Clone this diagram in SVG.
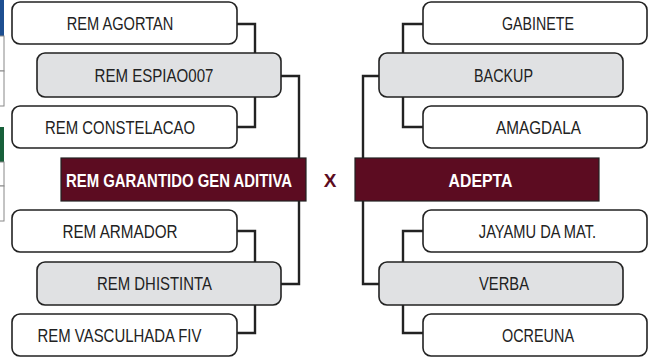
<svg xmlns="http://www.w3.org/2000/svg" width="656" height="358" viewBox="0 0 656 358">
<style>
.w{fill:#fff;stroke:#222;stroke-width:1.6}
.g{fill:#e0e1e3;stroke:#222;stroke-width:1.6}
.r{fill:#5c0c21;stroke:#222;stroke-width:1.2}
.t{font-family:"Liberation Sans",Arial,sans-serif;font-size:19px;fill:#222;text-anchor:middle}
.b{font-family:"Liberation Sans",Arial,sans-serif;font-size:19px;font-weight:bold;fill:#fff;text-anchor:middle}
.c{fill:none;stroke:#222;stroke-width:2.4}
.e{fill:#fff;stroke:#888;stroke-width:1}
</style>
<g id="edge-bits">
<rect x="-2" y="0" width="6" height="36" fill="#1d4f91"/>
<rect x="-2" y="36" width="6" height="35" class="e"/>
<rect x="-2" y="71" width="6" height="35" class="e"/>
<rect x="-2" y="127" width="6" height="35" fill="#17603a"/>
<rect x="-2" y="162" width="6" height="24" class="e"/>
<rect x="-2" y="186" width="6" height="35" class="e"/>
</g>
<g id="connectors">
<polyline class="c" points="237,24 255,24 255,53"/>
<polyline class="c" points="255,97 255,127 237,127"/>
<polyline class="c" points="281,76 299,76 299,158"/>
<polyline class="c" points="299,201 299,284 281,284"/>
<polyline class="c" points="237,231 255,231 255,262"/>
<polyline class="c" points="255,305 255,333 237,333"/>
<polyline class="c" points="423,24 403,24 403,53"/>
<polyline class="c" points="403,97 403,127 423,127"/>
<polyline class="c" points="379,76 363,76 363,158"/>
<polyline class="c" points="363,201 363,284 379,284"/>
<polyline class="c" points="423,231 403,231 403,262"/>
<polyline class="c" points="403,305 403,333 423,333"/>
</g>
<g id="n-agortan"><rect class="w" x="12" y="2" width="225" height="42" rx="8"/><text class="t" transform="translate(120,30) scale(0.77,1)">REM AGORTAN</text></g>
<g id="n-espiao"><rect class="g" x="37" y="53" width="244" height="44" rx="8"/><text class="t" transform="translate(154,82) scale(0.794,1)">REM ESPIAO007</text></g>
<g id="n-constelacao"><rect class="w" x="12" y="106" width="225" height="42" rx="8"/><text class="t" transform="translate(120,134) scale(0.785,1)">REM CONSTELACAO</text></g>
<g id="n-garantido"><rect class="r" x="61" y="158" width="245" height="43"/><text class="b" transform="translate(179,187) scale(0.785,1)">REM GARANTIDO GEN ADITIVA</text></g>
<g id="n-armador"><rect class="w" x="12" y="210" width="225" height="42" rx="8"/><text class="t" transform="translate(120,238) scale(0.802,1)">REM ARMADOR</text></g>
<g id="n-dhistinta"><rect class="g" x="37" y="262" width="244" height="43" rx="8"/><text class="t" transform="translate(154.5,290) scale(0.785,1)">REM DHISTINTA</text></g>
<g id="n-vasculhada"><rect class="w" x="12" y="314" width="225" height="42" rx="8"/><text class="t" transform="translate(119.5,342) scale(0.786,1)">REM VASCULHADA FIV</text></g>
<g id="n-gabinete"><rect class="w" x="423" y="2" width="224" height="42" rx="8"/><text class="t" transform="translate(538,30) scale(0.749,1)">GABINETE</text></g>
<g id="n-backup"><rect class="g" x="379" y="53" width="244" height="44" rx="8"/><text class="t" transform="translate(503.5,82) scale(0.755,1)">BACKUP</text></g>
<g id="n-amagdala"><rect class="w" x="423" y="106" width="224" height="42" rx="8"/><text class="t" transform="translate(538.5,134) scale(0.805,1)">AMAGDALA</text></g>
<g id="n-adepta"><rect class="r" x="355" y="158" width="244" height="43"/><text class="b" transform="translate(480.5,187) scale(0.832,1)">ADEPTA</text></g>
<g id="n-jayamu"><rect class="w" x="423" y="210" width="224" height="42" rx="8"/><text class="t" transform="translate(537.5,238) scale(0.772,1)">JAYAMU DA MAT.</text></g>
<g id="n-verba"><rect class="g" x="379" y="262" width="244" height="43" rx="8"/><text class="t" transform="translate(504,290) scale(0.776,1)">VERBA</text></g>
<g id="n-ocreuna"><rect class="w" x="423" y="314" width="224" height="42" rx="8"/><text class="t" transform="translate(538,342) scale(0.758,1)">OCREUNA</text></g>
<g id="vs"><text transform="translate(330,187)" text-anchor="middle" font-family="'Liberation Sans',Arial,sans-serif" font-size="19" font-weight="bold" fill="#5c0c21">X</text></g>
</svg>
